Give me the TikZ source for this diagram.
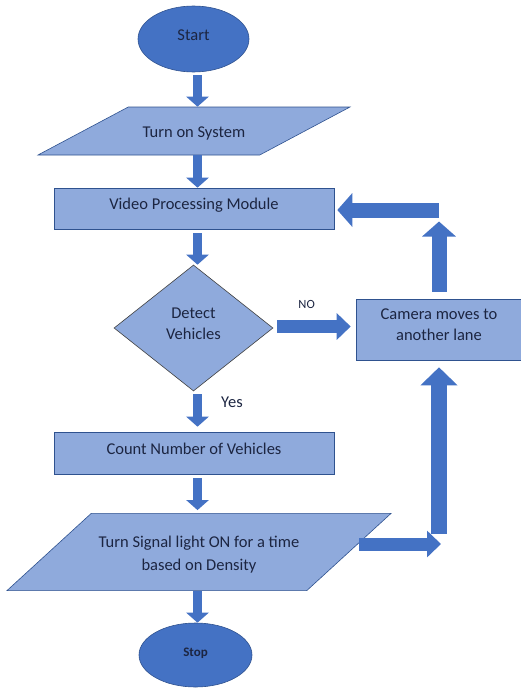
\documentclass[tikz,border=0pt]{standalone}
\usepackage{fontspec}
\setmainfont{Carlito}
\definecolor{FCdark}{HTML}{4472C4}
\definecolor{FClight}{HTML}{8FAADC}
\definecolor{FCedge}{HTML}{2F528F}
\definecolor{FCtext}{HTML}{1C2541}
\usetikzlibrary{shapes.geometric, arrows.meta, calc, positioning}

\tikzset{
  termnode/.style={ellipse, draw=FCedge, fill=FCdark, text=FCtext, line width=0.6pt, inner sep=0pt, text height=11pt, text depth=8pt},
  procnode/.style={rectangle, draw=FCedge, fill=FClight, text=FCtext, line width=0.6pt, align=center},
  oneline/.style={text height=11pt, text depth=9pt},
  ionode/.style={trapezium, trapezium stretches body, draw=FCedge, fill=FClight, text=FCtext, line width=0.6pt, align=center, inner xsep=0pt},
  decnode/.style={diamond, draw=black!75, fill=FClight, text=FCtext, line width=0.6pt, align=center, inner sep=0pt},
  flowarrow/.style={FCdark, line width=9pt, -{Triangle[width=22pt,length=10pt]}},
  looparrow/.style={FCdark, line width=15pt, -{Triangle[width=33pt,length=15pt]}},
  sidearrow/.style={FCdark, line width=13pt, -{Triangle[width=26pt,length=14pt]}},
}
% extra depth lifts the lines a little, as in the original
\newcommand{\lift}[1]{\rule[-#1]{0pt}{0pt}}

\begin{document}
\begin{tikzpicture}[x=1pt, y=-1pt, font=\fontsize{16.5}{21}\selectfont]
  \useasboundingbox (0,0) rectangle (521,688);

  \node[termnode, minimum width=111pt, minimum height=66pt] (start) at (193.5,39) {Start};
  \node[ionode, text height=13.5pt, text depth=0.5pt, inner ysep=17pt, trapezium left angle=28, trapezium right angle=152,
        minimum width=312pt] (turn) at (194,131) {Turn on System};
  \node[procnode, oneline, minimum width=280pt, minimum height=41pt] (video) at (194,208.5) {Video Processing Module};
  \node[decnode, minimum width=159pt, minimum height=126pt, aspect=1.26] (detect) at (193.5,328) {Detect\\Vehicles\lift{8pt}};
  \node[procnode, minimum width=166pt, minimum height=61pt] (camera) at (439,329.5) {Camera moves to\\another lane\lift{9pt}};
  \node[procnode, oneline, minimum width=280pt, minimum height=42pt] (count) at (194,453) {Count Number of Vehicles};
  \node[ionode, inner ysep=17pt, trapezium left angle=42.5, trapezium right angle=137.5,
        minimum width=384pt, font=\fontsize{16.5}{23}\selectfont] (signal) at (199,552) {\rule{0pt}{17.5pt}Turn Signal light ON for a time\\based on Density};
  \node[termnode, minimum width=113pt, minimum height=64pt, font=\fontsize{13}{15}\selectfont\bfseries] (stop) at (195.5,655) {Stop};

  % main flow
  \coordinate (spine) at ([xshift=4pt]start.south);
  \draw[flowarrow] ([yshift=-3pt]spine) -- (spine |- turn.north);
  \draw[flowarrow] (spine |- turn.south) -- (spine |- video.north);
  \draw[flowarrow] ([yshift=-4pt]spine |- video.south) -- (spine |- detect.north);
  \draw[flowarrow] ([yshift=-3pt]spine |- detect.south) -- ([yshift=5pt]spine |- count.north);
  \draw[flowarrow] ([yshift=-4pt]spine |- count.south) -- ([yshift=3pt]spine |- signal.north);
  \draw[flowarrow] (spine |- signal.south) -- (spine |- stop.north);

  % no branch
  \draw[sidearrow] ([xshift=4pt,yshift=1.5pt]detect.east) -- ([xshift=-5pt,yshift=1.5pt]detect.east -| camera.west)
    node[pos=0.4, above=8pt, font=\fontsize{12.5}{14}\selectfont, text=FCtext] {NO};
  \node[text=FCtext] (yes) at (232,402) {Yes};

  % loop back
  \coordinate (upcorner) at (camera.north |- video.east);
  \coordinate (lowcorner) at ([yshift=8pt]signal.east -| camera.south);
  \draw[looparrow] ([yshift=7pt]camera.north) -- ([yshift=-13pt]upcorner);
  \draw[looparrow] ([yshift=-1.5pt]upcorner) -- ([xshift=3pt,yshift=-1.5pt]video.east);
  \draw[sidearrow] ([xshift=10pt,yshift=8pt]signal.east) -- ([xshift=2pt]lowcorner);
  \draw[looparrow, line width=16pt, -{Triangle[width=36pt,length=18pt]}] ([yshift=10pt]lowcorner) -- ([yshift=-7pt]camera.south);
\end{tikzpicture}
\end{document}
